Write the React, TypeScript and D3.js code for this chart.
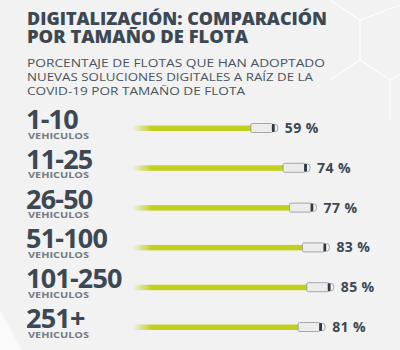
import { useEffect, useRef } from "react";
import * as d3 from "d3";

const titleLines = ["DIGITALIZACIÓN: COMPARACIÓN", "POR TAMAÑO DE FLOTA"];
const subtitleLines = [
  "PORCENTAJE DE FLOTAS QUE HAN ADOPTADO",
  "NUEVAS SOLUCIONES DIGITALES A RAÍZ DE LA",
  "COVID-19 POR TAMAÑO DE FLOTA",
];
const categories = ["1-10", "11-25", "26-50", "51-100", "101-250", "251+"];
const values = [59, 74, 77, 83, 85, 81];
const unitLabel = "VEHICULOS";

const W = 400;
const H = 350;
const DARK = "#3c4853";
const LIME = "#c3cf1d";

export default function App() {
  const ref = useRef<SVGSVGElement>(null);

  useEffect(() => {
    const svg = d3.select(ref.current);
    svg.selectAll("*").remove();

    const defs = svg.append("defs");
    const grad = defs
      .append("linearGradient")
      .attr("id", "fade")
      .attr("gradientUnits", "userSpaceOnUse")
      .attr("x1", 132)
      .attr("x2", 152)
      .attr("y1", 0)
      .attr("y2", 0);
    grad.append("stop").attr("offset", 0).attr("stop-color", LIME).attr("stop-opacity", 0);
    grad.append("stop").attr("offset", 1).attr("stop-color", LIME).attr("stop-opacity", 1);

    svg.append("rect").attr("width", W).attr("height", H).attr("fill", "#f2f2f2");

    // faint hexagon decoration top right
    const hex = svg.append("g").attr("fill", "none").attr("stroke", "#ffffff").attr("stroke-width", 1.2).attr("opacity", 0.9);
    hex.append("path").attr("d", "M330,0 L360,20 L400,5");
    hex.append("path").attr("d", "M360,20 L360,60 L390,80 L400,74");
    hex.append("path").attr("d", "M360,60 L330,80");
    hex.append("path").attr("d", "M390,80 L390,120");
    // light triangle bottom left
    svg.append("path").attr("d", "M0,310 L22,350 L0,350 Z").attr("fill", "#fafafa");

    const title = svg
      .append("g")
      .attr("font-family", "Open Sans, sans-serif")
      .attr("font-weight", 800)
      .attr("font-size", 17)
      .attr("fill", DARK);
    titleLines.forEach((t, i) => {
      title
        .append("text")
        .attr("x", 27)
        .attr("y", 25 + i * 18)
        .attr("textLength", i === 0 ? 300 : 221)
        .attr("lengthAdjust", "spacingAndGlyphs")
        .text(t);
    });

    const sub = svg
      .append("g")
      .attr("font-family", "Open Sans, sans-serif")
      .attr("font-weight", 400)
      .attr("font-size", 11)
      .attr("fill", "#4a545e");
    subtitleLines.forEach((t, i) => {
      sub
        .append("text")
        .attr("x", 27)
        .attr("y", 67 + i * 14)
        .attr("textLength", [298, 286, 218][i])
        .attr("lengthAdjust", "spacingAndGlyphs")
        .text(t);
    });

    const x = d3.scaleLinear().domain([0, 100]).range([151, 366]);
    const y = d3.scalePoint().domain(categories).range([128, 327]);

    const rows = svg
      .selectAll("g.row")
      .data(categories)
      .join("g")
      .attr("class", "row")
      .attr("transform", (d) => `translate(0,${y(d)})`);

    rows
      .append("text")
      .attr("x", 26)
      .attr("y", 1)
      .attr("font-family", "Open Sans, sans-serif")
      .attr("font-weight", 700)
      .attr("font-size", 27)
      .attr("letter-spacing", -0.8)
      .attr("fill", DARK)
      .text((d) => d);

    rows
      .append("text")
      .attr("x", 28)
      .attr("y", 10.5)
      .attr("font-family", "Open Sans, sans-serif")
      .attr("font-weight", 700)
      .attr("font-size", 8)
      .attr("fill", "#727b84")
      .attr("textLength", 61)
      .attr("lengthAdjust", "spacingAndGlyphs")
      .text(unitLabel);

    const truckW = 27;
    rows
      .append("rect")
      .attr("x", 132)
      .attr("y", -2.5)
      .attr("height", 5.5)
      .attr("width", (d, i) => x(values[i]) - truckW - 132 + 2)
      .attr("fill", "url(#fade)");

    const truck = rows.append("g").attr("transform", (d, i) => `translate(${x(values[i])},0)`);
    truck
      .append("rect")
      .attr("x", -truckW)
      .attr("y", -4.5)
      .attr("width", truckW - 5)
      .attr("height", 9)
      .attr("rx", 1.5)
      .attr("fill", "#ececec")
      .attr("stroke", "#8f9499")
      .attr("stroke-width", 0.8);
    truck
      .append("rect")
      .attr("x", -6)
      .attr("y", -4)
      .attr("width", 3)
      .attr("height", 8)
      .attr("rx", 1)
      .attr("fill", "#2f3a44");
    truck
      .append("path")
      .attr("d", "M-3,-4 Q0,-4 0,0 Q0,4 -3,4")
      .attr("fill", "#f4f4f4")
      .attr("stroke", "#8f9499")
      .attr("stroke-width", 0.8);

    rows
      .append("text")
      .attr("x", (d, i) => x(values[i]) + 7)
      .attr("y", 5)
      .attr("font-family", "Open Sans, sans-serif")
      .attr("font-weight", 700)
      .attr("font-size", 14)
      .attr("letter-spacing", 0.4)
      .attr("fill", DARK)
      .text((d, i) => `${values[i]} %`);
  }, []);

  return (
    <svg
      ref={ref}
      width={W}
      height={H}
      style={{ position: "absolute", left: 0, top: 0 }}
    />
  );
}
